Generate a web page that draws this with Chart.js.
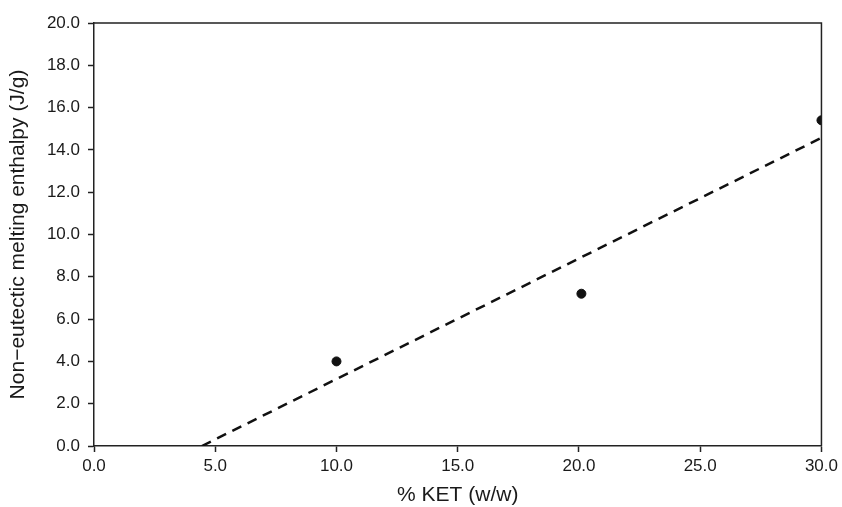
<!DOCTYPE html>
<html>
<head>
<meta charset="utf-8">
<script src="https://cdn.jsdelivr.net/npm/chart.js@4/dist/chart.umd.min.js"></script>
<style>
  html, body { margin: 0; padding: 0; background: #fff; }
  #wrap { width: 842px; height: 507px; }
</style>
</head>
<body>
<div id="wrap"><canvas id="chart"></canvas></div>
<script>
// measured points
const ketPercent = [10.0, 20.1, 30.0];
const enthalpy = [4.0, 7.2, 15.4];

// fitted line (endpoints)
const fitX = [4.45, 30.0];
const fitY = [0.0, 14.57];

const xTicks = [0, 5, 10, 15, 20, 25, 30];
const yTicks = [0, 2, 4, 6, 8, 10, 12, 14, 16, 18, 20];

const family = 'Liberation Sans, Arial, sans-serif';

// draws the top and right edges of the box
const frame = {
    id: 'frame',
    afterDraw(chart) {
        const a = chart.chartArea;
        const ctx = chart.ctx;
        ctx.save();
        ctx.strokeStyle = '#222';
        ctx.lineWidth = 1.5;
        ctx.beginPath();
        ctx.moveTo(a.left, a.top);
        ctx.lineTo(a.right, a.top);
        ctx.lineTo(a.right, a.bottom);
        ctx.stroke();
        ctx.restore();
    }
};

new Chart(document.getElementById('chart'), {
    type: 'scatter',
    data: {
        datasets: [{
            data: ketPercent.map((x, i) => ({ x: x, y: enthalpy[i] })),
            backgroundColor: '#111',
            borderColor: '#111',
            pointRadius: 4.5,
            showLine: false
        }, {
            data: fitX.map((x, i) => ({ x: x, y: fitY[i] })),
            borderColor: '#111',
            borderWidth: 2.5,
            borderDash: [10, 7],
            pointRadius: 0,
            showLine: true
        }]
    },
    options: {
        responsive: true,
        maintainAspectRatio: false,
        animation: false,
        layout: { padding: { top: 23, right: 20, left: 0, bottom: 0 } },
        plugins: {
            legend: { display: false },
            tooltip: { enabled: false }
        },
        scales: {
            x: {
                type: 'linear',
                min: 0,
                max: 30,
                afterBuildTicks: (s) => { s.ticks = xTicks.map(v => ({ value: v })); },
                afterFit: (s) => { s.height = 61; },
                grid: { drawOnChartArea: false, tickLength: 6, color: '#222', tickWidth: 1.5 },
                border: { color: '#222', width: 1.5 },
                ticks: {
                    color: '#1a1a1a',
                    font: { family: family, size: 17 },
                    padding: 4,
                    maxRotation: 0,
                    callback: (v) => v.toFixed(1)
                },
                title: {
                    display: true,
                    text: '% KET (w/w)',
                    color: '#1a1a1a',
                    font: { family: family, size: 21 },
                    padding: { top: 0, bottom: -1 }
                }
            },
            y: {
                min: 0,
                max: 20,
                afterBuildTicks: (s) => { s.ticks = yTicks.map(v => ({ value: v })); },
                afterFit: (s) => { s.width = 94; },
                grid: { drawOnChartArea: false, tickLength: 6, color: '#222', tickWidth: 1.5 },
                border: { color: '#222', width: 1.5 },
                ticks: {
                    color: '#1a1a1a',
                    font: { family: family, size: 17 },
                    padding: 8,
                    callback: (v) => v.toFixed(1)
                },
                title: {
                    display: true,
                    text: 'Non\u2212eutectic melting enthalpy (J/g)',
                    color: '#1a1a1a',
                    font: { family: family, size: 21 },
                    padding: { top: 6, bottom: 4 }
                }
            }
        }
    },
    plugins: [frame]
});
</script>
</body>
</html>
